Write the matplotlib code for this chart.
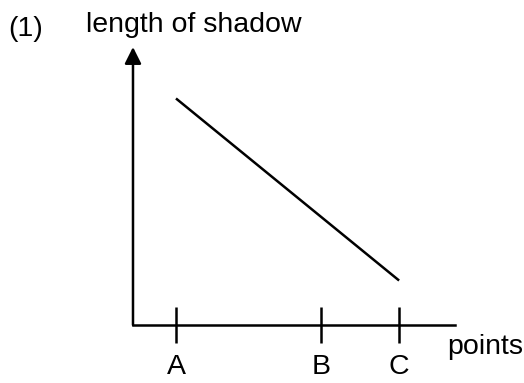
import matplotlib.pyplot as plt

plt.rcParams['font.family'] = ['Liberation Sans', 'DejaVu Sans']

# data
points = ['A', 'B', 'C']
point_pos = [1.0, 4.37, 6.19]
line_x = [1.0, 6.19]          # shadow line runs from A to C
shadow_len = [8.15, 1.6]

fig = plt.figure(figsize=(5.24, 3.83), dpi=100)
ax = fig.add_axes([0.2538, 0.1514, 0.6145, 0.7258])

ax.plot(line_x, shadow_len, color='black', lw=1.8, solid_capstyle='butt')

ax.set_xlim(0, 7.49)
ax.set_ylim(0, 10)

for s in ['top', 'right', 'left']:
    ax.spines[s].set_visible(False)
ax.spines['bottom'].set_linewidth(1.8)

# y axis drawn as arrow
ax.annotate('', xy=(0, 10), xytext=(0, 0), xycoords='data',
            arrowprops=dict(arrowstyle='-|>,head_length=1.0,head_width=0.5',
                            color='black', lw=1.8, shrinkA=0, shrinkB=0),
            annotation_clip=False)

ax.set_yticks([])
ax.set_xticks(point_pos)
ax.set_xticklabels(points, fontsize=20.5)
ax.tick_params(axis='x', direction='inout', length=26, width=1.8, pad=8)

ax.text(0.975, -0.08, 'points', transform=ax.transAxes, fontsize=20.5,
        ha='left', va='center')

fig.text(0.015, 0.925, '(1)', fontsize=20.5, ha='left', va='center')
fig.text(0.165, 0.935, 'length of shadow', fontsize=20.5, ha='left', va='center')

fig.savefig('out.png', dpi=100)
